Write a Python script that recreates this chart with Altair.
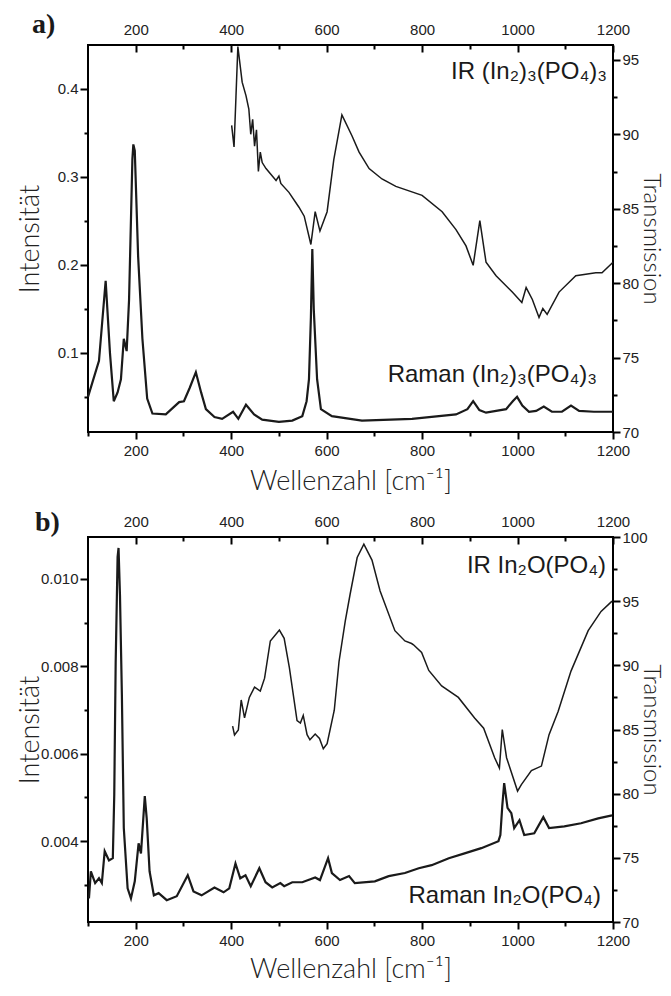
import altair as alt
import pandas as pd

# ---------------- data ----------------
# panel a) Raman (left axis, Intensität)
a_raman_wn = [100, 123, 137, 146, 154, 162, 169, 175, 181, 186, 193, 195, 198, 205, 214, 224, 235, 263,
              291, 301, 313, 326, 337, 347, 365, 381, 404, 415, 431, 448, 465, 500, 528, 549, 558, 563,
              567, 570, 573, 580, 588, 611, 674, 779, 871, 895, 907, 920, 934, 976, 990, 999, 1010,
              1024, 1039, 1055, 1072, 1093, 1112, 1129, 1160, 1200]
a_raman_int = [0.050, 0.091, 0.182, 0.100, 0.045, 0.055, 0.070, 0.116, 0.102, 0.160, 0.320, 0.337, 0.330,
               0.210, 0.116, 0.048, 0.031, 0.030, 0.044, 0.045, 0.060, 0.078, 0.055, 0.036, 0.027, 0.025,
               0.033, 0.025, 0.041, 0.030, 0.024, 0.0215, 0.023, 0.028, 0.045, 0.070, 0.140, 0.218, 0.150,
               0.070, 0.036, 0.028, 0.023, 0.025, 0.030, 0.036, 0.045, 0.035, 0.032, 0.036, 0.045, 0.050,
               0.040, 0.033, 0.034, 0.039, 0.033, 0.033, 0.040, 0.034, 0.033, 0.033]
# panel a) IR (right axis, Transmission)
a_ir_wn = [401, 406, 410, 414, 423, 431, 437, 441, 445, 449, 453, 457, 461, 465, 473, 494, 500, 504, 521,
           542, 553, 567, 576, 586, 601, 615, 632, 653, 668, 689, 716, 745, 800, 842, 871, 892, 907, 921,
           934, 955, 989, 1009, 1018, 1031, 1045, 1053, 1062, 1087, 1122, 1164, 1177, 1200]
a_ir_t = [90.6, 89.15, 92.5, 95.9, 93.5, 92.6, 91.7, 90.0, 91.0, 89.2, 90.3, 87.5, 88.8, 88.1, 87.7, 86.9,
          87.2, 86.7, 86.1, 85.1, 84.5, 82.6, 84.8, 83.5, 84.8, 88.3, 91.3, 89.9, 88.8, 87.7, 87.0, 86.5,
          85.9, 84.8, 83.6, 82.5, 81.2, 84.2, 81.4, 80.5, 79.4, 78.7, 79.7, 78.9, 77.7, 78.3, 77.9, 79.4,
          80.5, 80.7, 80.7, 81.4]

# panel b) Raman
b_raman_wn = [102, 106, 115, 123, 129, 135, 144, 152, 155, 158, 162, 164, 167, 171, 175, 183, 190, 198,
              206, 211, 219, 223, 229, 238, 248, 265, 286, 309, 321, 338, 365, 384, 396, 409, 419, 430,
              441, 459, 472, 486, 503, 511, 528, 549, 576, 586, 603, 611, 628, 647, 659, 701, 730, 764,
              793, 820, 856, 889, 924, 960, 964, 968, 972, 979, 987, 993, 1004, 1014, 1035, 1054, 1066,
              1098, 1133, 1169, 1198]
b_raman_int = [0.00269, 0.00331, 0.00304, 0.00315, 0.00304, 0.00377, 0.00356, 0.00361, 0.00505, 0.0081,
               0.0105, 0.01071, 0.00963, 0.00734, 0.0043, 0.00292, 0.00269, 0.00308, 0.00395, 0.00372,
               0.00503, 0.00452, 0.00331, 0.00276, 0.00281, 0.00265, 0.00274, 0.00322, 0.00285, 0.00276,
               0.00294, 0.00283, 0.00292, 0.00349, 0.00315, 0.00322, 0.00297, 0.00338, 0.00306, 0.00294,
               0.00304, 0.00297, 0.00306, 0.00306, 0.00317, 0.00311, 0.00361, 0.00327, 0.00311, 0.00320,
               0.00304, 0.00308, 0.00320, 0.00327, 0.00338, 0.00345, 0.00361, 0.00372, 0.00384, 0.00400,
               0.00414, 0.00480, 0.00533, 0.00476, 0.00464, 0.00430, 0.00448, 0.00414, 0.00418, 0.00455,
               0.00430, 0.00434, 0.00441, 0.00452, 0.00459]
# panel b) IR
b_ir_wn = [403, 407, 415, 421, 428, 438, 449, 461, 470, 482, 501, 511, 522, 538, 545, 551, 559, 565, 576,
           585, 593, 601, 616, 626, 639, 649, 664, 678, 695, 712, 743, 764, 778, 782, 799, 814, 841, 876,
           910, 929, 952, 962, 968, 977, 1000, 1008, 1029, 1050, 1066, 1085, 1112, 1148, 1175, 1198]
b_ir_t = [85.27, 84.57, 84.96, 87.3, 85.9, 87.5, 88.3, 88.0, 89.0, 91.9, 92.75, 92.1, 89.8, 85.7, 85.5,
          86.1, 84.6, 84.2, 84.65, 84.3, 83.5, 83.9, 86.5, 90.3, 93.45, 95.5, 98.4, 99.45, 98.2, 95.8,
          92.7, 91.9, 91.7, 91.6, 91.0, 89.6, 88.4, 87.5, 85.9, 85.1, 82.8, 82.0, 85.0, 82.8, 80.2, 80.7,
          81.8, 82.15, 84.6, 86.4, 89.55, 92.7, 94.2, 95.0]

# ticks
x_all_ticks = [100, 200, 300, 400, 500, 600, 700, 800, 900, 1000, 1100, 1200]
x_major_ticks = [200, 400, 600, 800, 1000, 1200]
x_minor_ticks = [300, 500, 700, 900, 1100]
a_left_ticks = [0.05, 0.1, 0.15, 0.2, 0.25, 0.3, 0.35, 0.4]
a_right_ticks = [70, 72.5, 75, 77.5, 80, 82.5, 85, 87.5, 90, 92.5, 95]
b_left_ticks = [0.003, 0.004, 0.005, 0.006, 0.007, 0.008, 0.009, 0.010]
b_right_ticks = [70, 72.5, 75, 77.5, 80, 82.5, 85, 87.5, 90, 92.5, 95, 97.5, 100]

INK = "#1a1a1a"
TICKF = "Liberation Sans"
TITLEF = "Lato"


def cond(test, major, minor):
    return {"condition": {"test": test, "value": major}, "value": minor}


def text_layer(txt, x, y, size, font, weight="normal", align="right"):
    return alt.Chart(pd.DataFrame({"t": [txt]})).mark_text(
        align=align, baseline="alphabetic", font=font, fontSize=size, fontWeight=weight, color=INK
    ).encode(x=alt.value(x), y=alt.value(y), text="t:N")


def panel(rwn, rv, iwn, iv, w, h, ldom, lticks, ltest, lfmt, rdom, rticks, texts, xtitle_y):
    dfr = pd.DataFrame({"wn": rwn, "v": rv})
    dfi = pd.DataFrame({"wn": iwn, "v": iv})
    xs = alt.Scale(domain=[100, 1200], nice=False, zero=False)
    xtest = "datum.value % 200 == 0"
    rtest = "datum.value % 5 == 0"

    raman = alt.Chart(dfr).mark_line(color=INK, strokeWidth=2.2).encode(
        x=alt.X("wn:Q", scale=xs, axis=alt.Axis(
            orient="bottom", values=x_all_ticks, tickSize=cond(xtest, 7, 4), format="d",
            labelExpr=f"{xtest} ? datum.label : ''", labelPadding=4, labelFlush=False,
            domain=False, grid=False, title="Wellenzahl [cm⁻¹]",
            titleBaseline="alphabetic", titleY=xtitle_y)),
        y=alt.Y("v:Q", scale=alt.Scale(domain=ldom, nice=False, zero=False), axis=alt.Axis(
            orient="left", values=lticks, tickSize=cond(ltest, 8, 4), format=lfmt,
            labelExpr=f"{ltest} ? datum.label : ''", labelPadding=2, labelFlush=False,
            domain=False, grid=False, title="Intensität",
            titleBaseline="alphabetic", titleX=-50, titleAngle=270)),
    )
    ir = alt.Chart(dfi).mark_line(color=INK, strokeWidth=1.5).encode(
        x=alt.X("wn:Q", scale=xs, axis=alt.Axis(
            orient="top", values=x_major_ticks, tickSize=7, offset=-7, labelPadding=8, format="d",
            labelFlush=False, domain=False, grid=False, title=None)),
        y=alt.Y("v:Q", scale=alt.Scale(domain=rdom, nice=False, zero=False), axis=alt.Axis(
            orient="right", values=rticks, tickSize=cond(rtest, 7, 4), format="d",
            labelExpr=f"{rtest} ? datum.label : ''", labelPadding=2, labelFlush=False,
            domain=False, grid=False, title="Transmission", titleFontSize=24,
            titleBaseline="alphabetic", titleX=30, titleAngle=90)),
    )
    ir_minor = alt.Chart(dfi).mark_line(strokeOpacity=0).encode(
        x=alt.X("wn:Q", scale=xs, axis=alt.Axis(
            orient="top", values=x_minor_ticks, tickSize=4, offset=-4, labels=False,
            domain=False, grid=False, title=None)),
        y=alt.Y("v:Q", scale=alt.Scale(domain=rdom, nice=False, zero=False), axis=None),
    )
    layers = [raman, ir, ir_minor] + texts
    return alt.layer(*layers).resolve_scale(y="independent").resolve_axis(
        x="independent", y="independent").properties(width=w, height=h)


pa = panel(a_raman_wn, a_raman_int, a_ir_wn, a_ir_t, 525, 387,
           [0.01, 0.45], a_left_ticks,
           "abs(datum.value*10 - round(datum.value*10)) < 0.001", ".1f",
           [70, 96], a_right_ticks,
           [text_layer("IR  (In₂)₃(PO₄)₃", 519, 34, 24, TICKF),
            text_layer("Raman  (In₂)₃(PO₄)₃", 509, 337, 24, TICKF),
            text_layer("a)", -56, -12, 28, "Liberation Serif", "bold", "left")], 57)

pb = panel(b_raman_wn, b_raman_int, b_ir_wn, b_ir_t, 525, 385,
           [0.00215, 0.01096], b_left_ticks,
           "round(datum.value*1000) % 2 == 0", ".3f",
           [70, 100], b_right_ticks,
           [text_layer("IR In₂O(PO₄)", 518, 36, 24, TICKF),
            text_layer("Raman In₂O(PO₄)", 513, 366, 24, TICKF),
            text_layer("b)", -53, -6, 28, "Liberation Serif", "bold", "left")], 55)

chart = alt.vconcat(
    pa, pb, spacing=13, background="white",
    padding={"left": 7, "top": 2, "right": 0, "bottom": 0}
).configure_view(
    stroke="black", strokeWidth=2
).configure_axis(
    labelFont=TICKF, labelFontSize=15, labelColor="#222222",
    tickColor="black", tickWidth=2,
    titleFont=TITLEF, titleFontSize=27, titleFontWeight=300, titleColor="#222222"
)

chart.save("out.html", embed_options={"renderer": "svg", "actions": False})
